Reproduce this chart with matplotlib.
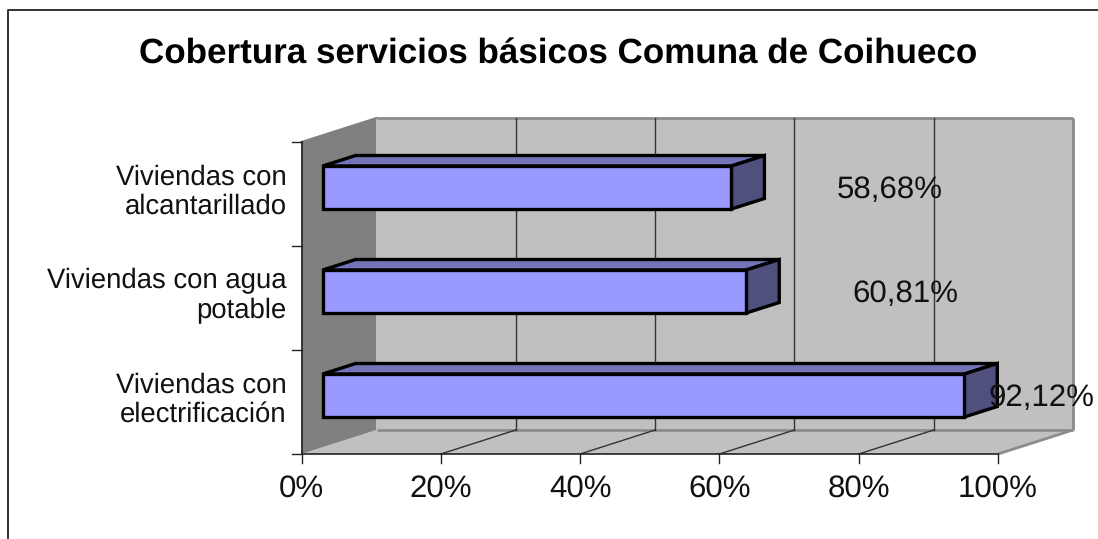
import matplotlib
matplotlib.use('Agg')
import matplotlib.pyplot as plt
from matplotlib.patches import Polygon

categorias = ['Viviendas con\nelectrificación', 'Viviendas con agua\npotable', 'Viviendas con\nalcantarillado']
valores = [92.12, 60.81, 58.68]
ticks_x = [0, 20, 40, 60, 80, 100]
titulo = 'Cobertura servicios básicos Comuna de Coihueco'

plt.rcParams['font.family'] = ['Liberation Sans', 'DejaVu Sans']
plt.rcParams['text.hinting'] = 'no_hinting'

W, H = 1098, 539
fig = plt.figure(figsize=(W / 100, H / 100), dpi=100)
fig.patch.set_facecolor('white')

# front plane of the 3d box, in pixels: x 301.5-998, y 142-454
ax = fig.add_axes([301.5 / W, 1 - 454 / H, 696.5 / W, 312 / H])
ax.set_xlim(0, 100)
ax.set_ylim(0, 3)
ax.axis('off')

px = 100 / 696.5
py = 3 / 312
dx, dy = 75 * px, 24 * py      # depth of the box
bdx, bdy = 33 * px, 10.5 * py  # depth of a bar
x0 = 20.5 * px + 0.1
alto = 43 * py
centro = 0.5625


def poly(pts, **kw):
    ax.add_patch(Polygon(pts, closed=True, clip_on=False, **kw))


# walls and floor
poly([(dx, dy), (100 + dx, dy), (100 + dx, 3 + dy), (dx, 3 + dy)], fc='#c0c0c0', ec='none', zorder=1)
poly([(0, 0), (100, 0), (100 + dx, dy), (dx, dy)], fc='#c0c0c0', ec='none', zorder=1)
poly([(0, 0), (dx, dy), (dx, 3 + dy), (0, 3)], fc='#808080', ec='none', zorder=2)

gris = dict(color='#8c8c8c', lw=2, clip_on=False, zorder=2, solid_capstyle='butt')
ax.plot([dx, 100 + dx], [3 + dy, 3 + dy], **gris)
ax.plot([100 + dx, 100 + dx], [dy, 3 + dy], **gris)
ax.plot([dx, 100 + dx], [dy, dy], **gris)
ax.plot([100, 100 + dx], [0, dy], **gris)
ax.plot([0, dx], [3, 3 + dy], color='#808080', lw=1.5, clip_on=False, zorder=2)

for t in ticks_x[1:-1]:
    ax.plot([t + dx, t + dx], [dy, 3 + dy], color='#333333', lw=1, clip_on=False, zorder=2)
    ax.plot([t, t + dx], [0, dy], color='#333333', lw=1, clip_on=False, zorder=2)

# axis lines and ticks
ax.plot([0, 100], [0, 0], color='#222222', lw=1.2, clip_on=False, zorder=3)
ax.plot([0, 0], [0, 3], color='#222222', lw=1.2, clip_on=False, zorder=3)
for t in ticks_x:
    ax.plot([t, t], [0, -9 * py], color='#222222', lw=1, clip_on=False, zorder=3)
    ax.text(t, -35 * py, f'{t}%', ha='center', va='center', fontsize=22.5, color='#111111')
for i in range(4):
    ax.plot([-9.5 * px, 0], [i, i], color='#222222', lw=1, clip_on=False, zorder=3)

# bars
for i, v in enumerate(valores):
    y1 = i + centro - alto / 2
    y2 = i + centro + alto / 2
    x1 = x0 + v
    borde = dict(ec='black', lw=2.4, joinstyle='miter', zorder=5)
    poly([(x0, y2), (x1, y2), (x1 + bdx, y2 + bdy), (x0 + bdx, y2 + bdy)], fc='#7373b8', **borde)
    poly([(x1, y1), (x1 + bdx, y1 + bdy), (x1 + bdx, y2 + bdy), (x1, y2)], fc='#50507f', **borde)
    poly([(x0, y1), (x1, y1), (x1, y2), (x0, y2)], fc='#9999ff', **borde)
    ax.text(-15 * px, i + 0.52, categorias[i], ha='right', va='center', fontsize=19.8,
            color='#111111', linespacing=1.15)
    etiqueta = f'{v:.2f}%'.replace('.', ',')
    ax.text(min(x1 + 22.8, 106.3), i + 0.535, etiqueta, ha='center', va='center', fontsize=22.5,
            color='#111111', zorder=6)

# outer frame of the chart: left and top only
fig.add_artist(plt.Line2D([8 / W, 8 / W, 1], [0, 1 - 10 / H, 1 - 10 / H], color='#333333', lw=1.4))

fig.text(558 / W, 1 - 55 / H, titulo, ha='center', va='center', fontsize=25.2, fontweight='bold', color='black')

fig.savefig('out.png', dpi=100)
